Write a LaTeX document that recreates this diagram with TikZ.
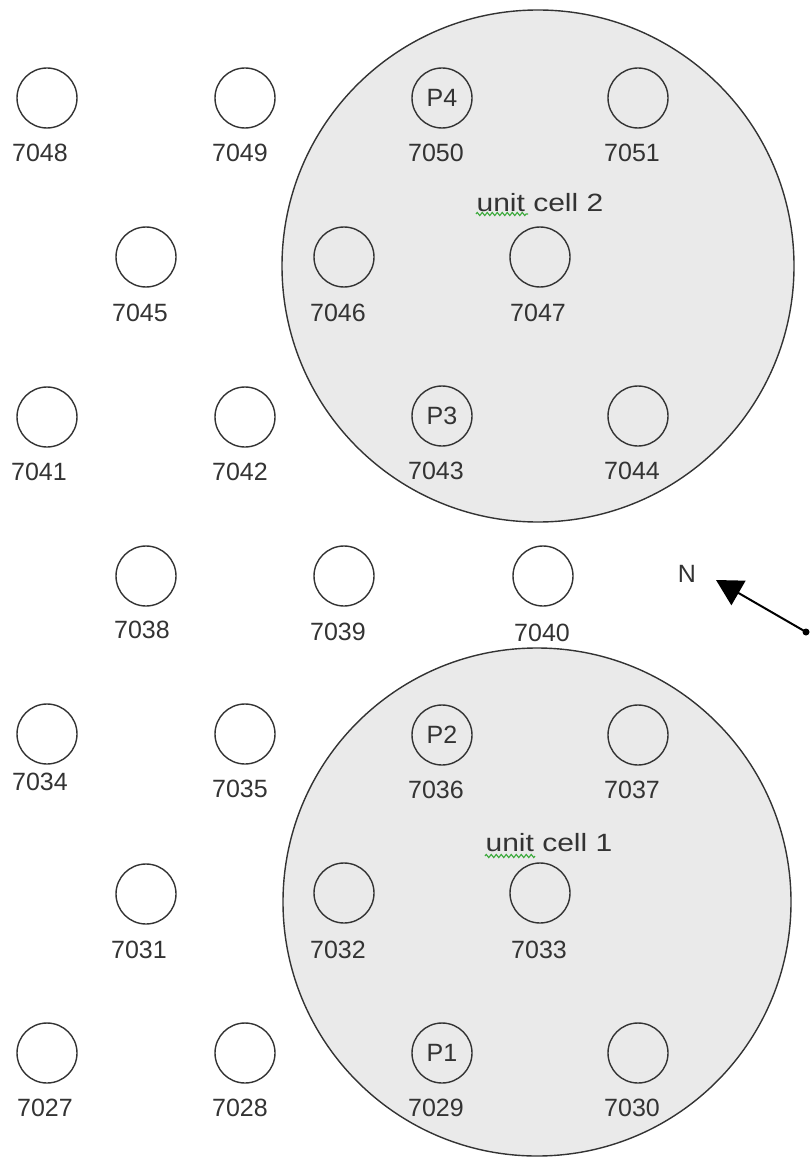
\documentclass[tikz,border=0pt]{standalone}
\usepackage{fontspec}
\setmainfont{Liberation Sans}
\usetikzlibrary{arrows.meta,decorations.pathmorphing}
\definecolor{cellfill}{HTML}{EAEAEA}
\definecolor{ink}{HTML}{333333}
\definecolor{spell}{HTML}{3DAA3D}
\tikzset{
  hole/.style={circle,draw=ink,line width=1.4pt,minimum size=60pt,inner sep=0pt,font=\fontsize{25}{30}\selectfont,text=ink},
  lbl/.style={inner sep=0pt,font=\fontsize{25}{30}\selectfont,text=ink},
  cell/.style={circle,draw=ink,fill=cellfill,line width=1.4pt,inner sep=0pt},
  squiggle/.style={draw=spell,line width=1.1pt,decorate,decoration={zigzag,amplitude=1.6pt,segment length=5pt}}
}
\begin{document}
\begin{tikzpicture}[x=1pt,y=-1pt]
\useasboundingbox (0,0) rectangle (809,1158);
% unit cells
\node[cell,minimum size=512pt] (cell2) at (538,266) {};
\node[cell,minimum size=508pt] (cell1) at (537,902) {};
% row A
\node[hole] (c7048) at (47,98) {};
\node[hole] (c7049) at (245,98) {};
\node[hole] (c7050) at (442,98) {P4};
\node[hole] (c7051) at (638,98) {};
\node[lbl] (l7048) at (40,153) {7048};
\node[lbl] (l7049) at (240,153) {7049};
\node[lbl] (l7050) at (436,153) {7050};
\node[lbl] (l7051) at (632,153) {7051};
% row B
\node[hole] (c7045) at (146,257) {};
\node[hole] (c7046) at (344,257) {};
\node[hole] (c7047) at (540,257) {};
\node[lbl] (l7045) at (140,313) {7045};
\node[lbl] (l7046) at (338,313) {7046};
\node[lbl] (l7047) at (538,313) {7047};
% row C
\node[hole] (c7041) at (47,417) {};
\node[hole] (c7042) at (245,417) {};
\node[hole] (c7043) at (442,416) {P3};
\node[hole] (c7044) at (638,416) {};
\node[lbl] (l7041) at (39,472) {7041};
\node[lbl] (l7042) at (240,472) {7042};
\node[lbl] (l7043) at (436,471) {7043};
\node[lbl] (l7044) at (632,471) {7044};
% row D
\node[hole] (c7038) at (146,576) {};
\node[hole] (c7039) at (344,576) {};
\node[hole] (c7040) at (543,576) {};
\node[lbl] (l7038) at (142,630) {7038};
\node[lbl] (l7039) at (338,632) {7039};
\node[lbl] (l7040) at (542,633) {7040};
% row E
\node[hole] (c7034) at (47,734) {};
\node[hole] (c7035) at (245,734) {};
\node[hole] (c7036) at (442,735) {P2};
\node[hole] (c7037) at (638,735) {};
\node[lbl] (l7034) at (40,782) {7034};
\node[lbl] (l7035) at (240,789) {7035};
\node[lbl] (l7036) at (436,790) {7036};
\node[lbl] (l7037) at (632,790) {7037};
% row F
\node[hole] (c7031) at (146,894) {};
\node[hole] (c7032) at (344,893) {};
\node[hole] (c7033) at (540,893) {};
\node[lbl] (l7031) at (139,950) {7031};
\node[lbl] (l7032) at (338,950) {7032};
\node[lbl] (l7033) at (539,950) {7033};
% row G
\node[hole] (c7027) at (47,1053) {};
\node[hole] (c7028) at (245,1053) {};
\node[hole] (c7029) at (442,1053) {P1};
\node[hole] (c7030) at (638,1053) {};
\node[lbl] (l7027) at (45,1108) {7027};
\node[lbl] (l7028) at (240,1108) {7028};
\node[lbl] (l7029) at (436,1108) {7029};
\node[lbl] (l7030) at (632,1108) {7030};
% cell titles
\node[lbl] (t2) at (540,203) {\scalebox{1.2}[1]{unit cell 2}};
\node[lbl] (t1) at (549,843) {\scalebox{1.2}[1]{unit cell 1}};
\coordinate (u2a) at (476,214);
\coordinate (u2b) at (528,214);
\coordinate (u1a) at (485,856);
\coordinate (u1b) at (535,856);
\path[squiggle] (u2a) -- (u2b);
\path[squiggle] (u1a) -- (u1b);
% north arrow
\node[lbl] (N) at (687,574) {N};
\coordinate (ntip) at (716,580);
\coordinate (nend) at (806,632);
\draw[line width=2pt,draw=black,-{Triangle[length=26pt,width=28pt]}] (nend) -- (ntip);
\fill[black] (nend) circle (3.5pt);
\end{tikzpicture}
\end{document}
